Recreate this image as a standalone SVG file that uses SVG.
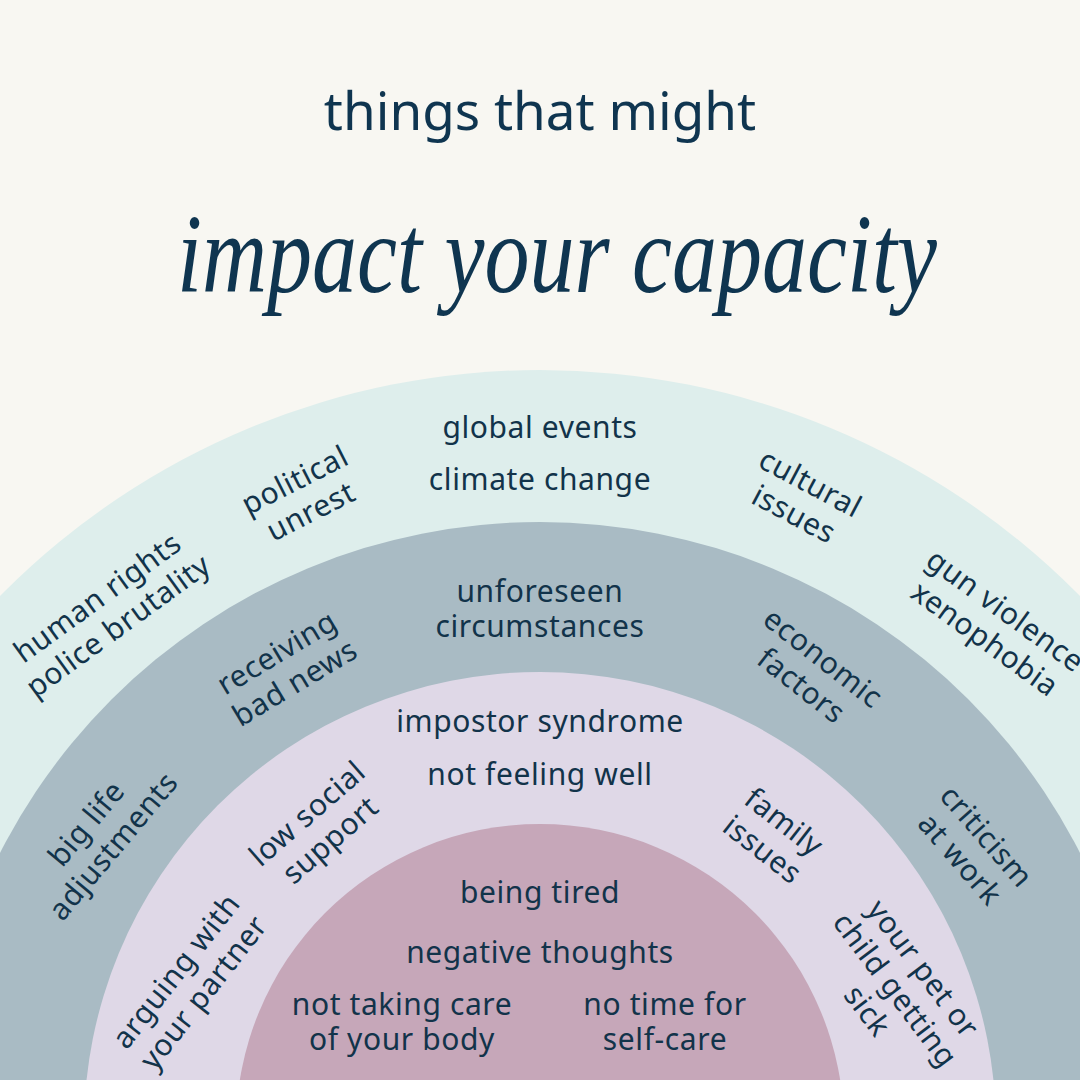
<svg xmlns="http://www.w3.org/2000/svg" width="1080" height="1080" viewBox="0 0 1080 1080">
  <style>
    .lbl { font-family: "Noto Sans", "Open Sans", sans-serif; font-size: 30px; letter-spacing: 0.6px; fill: #12334a; text-anchor: middle; }
    .title { font-family: "Noto Sans", "Open Sans", sans-serif; font-size: 53px; fill: #0f3550; text-anchor: middle; }
    .script { font-family: "Liberation Serif", "DejaVu Serif", serif; font-style: italic; font-size: 112px; fill: #0f3550; text-anchor: middle; }
  </style>
  <rect width="1080" height="1080" fill="#f8f7f2"/>

  <g id="ring-outer"><circle cx="540" cy="1128" r="758" fill="#deeeec"/></g>
  <g id="ring-second"><circle cx="540" cy="1128" r="606" fill="#a9bbc4"/></g>
  <g id="ring-third"><circle cx="540" cy="1128" r="456" fill="#dfd8e7"/></g>
  <g id="ring-core"><circle cx="540" cy="1128" r="304" fill="#c6a7b9"/></g>

  <g id="title">
    <text class="title" x="540" y="130">things that might</text>
    <text class="script" x="557" y="292" textLength="760" lengthAdjust="spacingAndGlyphs">impact your capacity</text>
  </g>

  <g id="connectors"/>

  <!-- outer ring -->
  <g id="n-global"><text class="lbl" x="540" y="438">global events</text></g>
  <g id="n-climate"><text class="lbl" x="540" y="490">climate change</text></g>
  <g id="n-human"><text class="lbl" transform="translate(108 612) rotate(-36)"><tspan x="0" y="-7.5">human rights</tspan><tspan x="0" y="27.5">police brutality</tspan></text></g>
  <g id="n-political"><text class="lbl" transform="translate(303 496) rotate(-27)"><tspan x="0" y="-7.5">political</tspan><tspan x="0" y="27.5">unrest</tspan></text></g>
  <g id="n-cultural"><text class="lbl" transform="translate(802 499) rotate(28)"><tspan x="0" y="-7.5">cultural</tspan><tspan x="0" y="27.5">issues</tspan></text></g>
  <g id="n-gun"><text class="lbl" transform="translate(995 625) rotate(36)"><tspan x="0" y="-7.5">gun violence</tspan><tspan x="0" y="27.5">xenophobia</tspan></text></g>

  <!-- second ring -->
  <g id="n-unforeseen"><text class="lbl"><tspan x="540" y="602">unforeseen</tspan><tspan x="540" y="637">circumstances</tspan></text></g>
  <g id="n-receiving"><text class="lbl" transform="translate(286 668) rotate(-31)"><tspan x="0" y="-7.5">receiving</tspan><tspan x="0" y="27.5">bad news</tspan></text></g>
  <g id="n-economic"><text class="lbl" transform="translate(812 672) rotate(38)"><tspan x="0" y="-7.5">economic</tspan><tspan x="0" y="27.5">factors</tspan></text></g>
  <g id="n-biglife"><text class="lbl" transform="translate(100 835) rotate(-50)"><tspan x="0" y="-7.5">big life</tspan><tspan x="0" y="27.5">adjustments</tspan></text></g>
  <g id="n-criticism"><text class="lbl" transform="translate(973 848) rotate(49)"><tspan x="0" y="-7.5">criticism</tspan><tspan x="0" y="27.5">at work</tspan></text></g>

  <!-- third ring -->
  <g id="n-impostor"><text class="lbl" x="540" y="732">impostor syndrome</text></g>
  <g id="n-notfeeling"><text class="lbl" x="540" y="785">not feeling well</text></g>
  <g id="n-lowsocial"><text class="lbl" transform="translate(319 827) rotate(-41)"><tspan x="0" y="-7.5">low social</tspan><tspan x="0" y="27.5">support</tspan></text></g>
  <g id="n-family"><text class="lbl" transform="translate(773 836) rotate(38)"><tspan x="0" y="-7.5">family</tspan><tspan x="0" y="27.5">issues</tspan></text></g>
  <g id="n-arguing"><text class="lbl" transform="translate(190 982) rotate(-52)"><tspan x="0" y="-7.5">arguing with</tspan><tspan x="0" y="27.5">your partner</tspan></text></g>
  <g id="n-pet"><text class="lbl" transform="translate(895 990) rotate(53)"><tspan x="0" y="-25">your pet or</tspan><tspan x="0" y="10">child getting</tspan><tspan x="0" y="45">sick</tspan></text></g>

  <!-- core -->
  <g id="n-tired"><text class="lbl" x="540" y="903">being tired</text></g>
  <g id="n-negative"><text class="lbl" x="540" y="963">negative thoughts</text></g>
  <g id="n-body"><text class="lbl"><tspan x="402" y="1015">not taking care</tspan><tspan x="402" y="1050">of your body</tspan></text></g>
  <g id="n-selfcare"><text class="lbl"><tspan x="665" y="1015">no time for</tspan><tspan x="665" y="1050">self-care</tspan></text></g>
</svg>
